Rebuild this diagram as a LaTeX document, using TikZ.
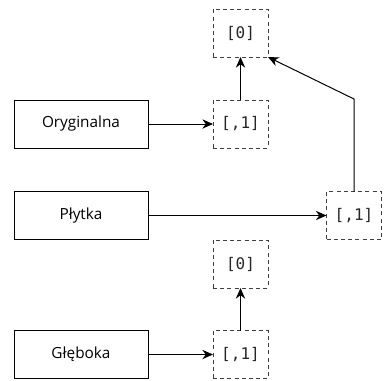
\documentclass[tikz,border=0pt]{standalone}
\usepackage{fontspec}
\setmainfont{Open Sans}
\setmonofont{DejaVu Sans Mono}
\usetikzlibrary{arrows.meta}
\begin{document}
\begin{tikzpicture}[x=0.75pt,y=-0.75pt,
  label box/.style={draw=black,line width=0.75pt,minimum width=100.5pt,minimum height=36pt,inner sep=0pt,outer sep=0pt,font=\fontsize{11.5}{13}\selectfont},
  val box/.style={draw=black!75,line width=0.75pt,dash pattern=on 3pt off 2.4pt,minimum width=41.25pt,minimum height=36pt,inner sep=0pt,outer sep=0pt,font=\ttfamily\fontsize{12}{14}\selectfont,text=black!85},
  conn/.style={line width=0.75pt,-{Stealth[length=8pt,width=7pt]}}]
\useasboundingbox (0,0) rectangle (385,380);
\node[label box] (orig) at (81,124) {Oryginalna};
\node[label box] (plyt) at (81,215.5) {Płytka};
\node[label box] (gleb) at (81,354.5) {Głęboka};
\node[val box] (t0) at (240.5,33) {[0]};
\node[val box] (t1) at (240.5,124) {[,1]};
\node[val box] (r1) at (354,215.5) {[,1]};
\node[val box] (b0) at (240.5,264) {[0]};
\node[val box] (b1) at (240.5,354.5) {[,1]};
\coordinate (k) at (354,99);
\draw[conn] (orig) -- (t1);
\draw[conn] (t1) -- (t0);
\draw[conn] (plyt) -- (r1);
\draw[conn] (r1.north) -- (k) -- (t0.south east);
\draw[conn] (b1) -- (b0);
\draw[conn] (gleb) -- (b1);
\end{tikzpicture}
\end{document}
